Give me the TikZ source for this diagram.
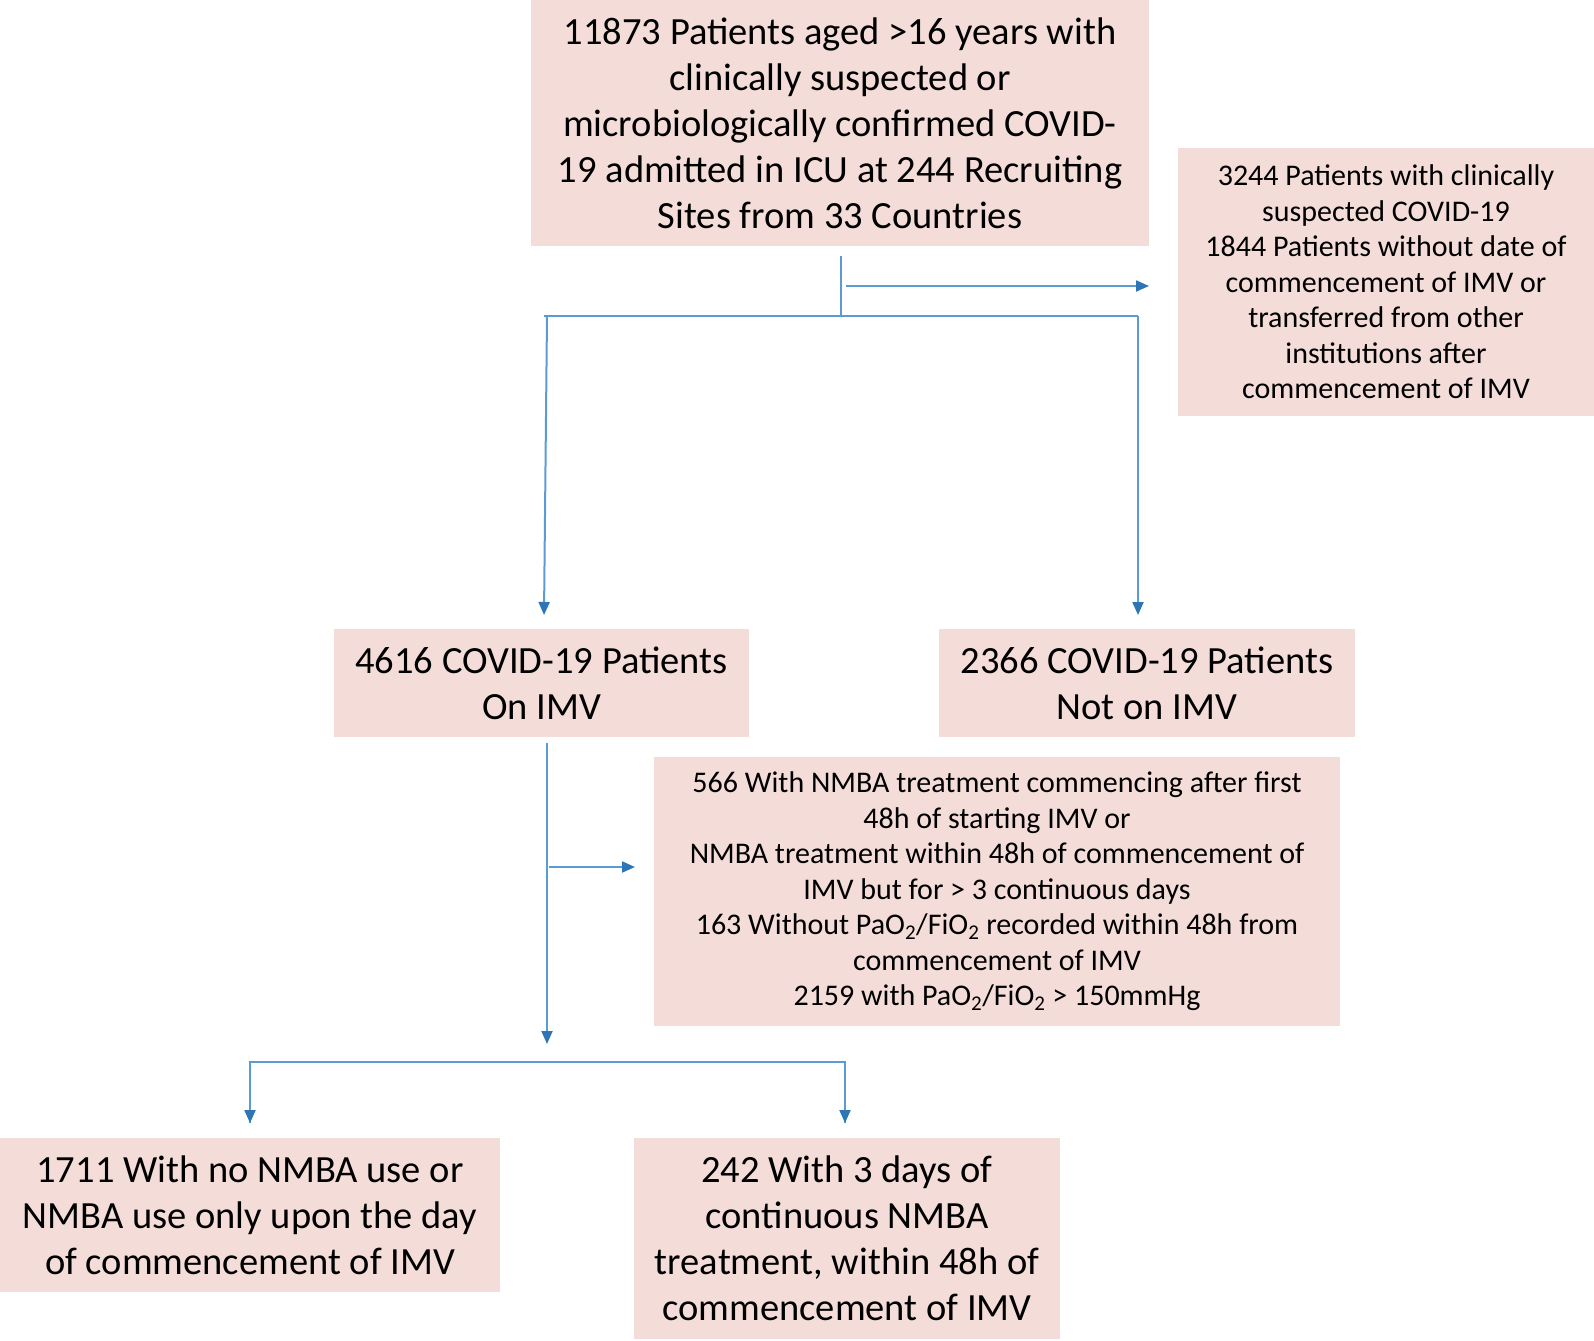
\documentclass[tikz,border=0pt]{standalone}
\usepackage{fontspec}
\setmainfont{Carlito}
\usetikzlibrary{arrows.meta}
\definecolor{boxfill}{RGB}{244,221,216}
\definecolor{linec}{RGB}{91,155,213}
\definecolor{tipc}{RGB}{46,117,182}
\begin{document}
\begin{tikzpicture}[x=1pt,y=-1pt,
  box/.style={fill=boxfill, inner sep=0pt, align=center},
  bigtxt/.style={font=\fontsize{38.5}{46}\selectfont},
  smalltxt/.style={font=\fontsize{30}{35.5}\selectfont},
  conn/.style={draw=linec, line width=2pt},
  arr/.style={conn, -{Triangle[length=13pt,width=11pt,fill=tipc,color=tipc]}}]
\useasboundingbox (0,0) rectangle (1594,1340);
\node[box,bigtxt,minimum width=618pt,minimum height=246pt] (top) at (840,123)
 {11873 Patients aged >16 years with\\clinically suspected or\\microbiologically confirmed COVID-\\19 admitted in ICU at 244 Recruiting\\Sites from 33 Countries};
\node[box,smalltxt,minimum width=416pt,minimum height=268pt] (excl1) at (1386,282)
 {3244 Patients with clinically\\suspected COVID-19\\1844 Patients without date of\\commencement of IMV or\\transferred from other\\institutions after\\commencement of IMV};
\node[box,bigtxt,minimum width=415pt,minimum height=108pt] (imv) at (541.5,683)
 {4616 COVID-19 Patients\\On IMV};
\node[box,bigtxt,minimum width=416pt,minimum height=108pt] (notimv) at (1147,683)
 {2366 COVID-19 Patients\\Not on IMV};
\node[box,smalltxt,minimum width=686pt,minimum height=269pt] (excl2) at (997,891.5)
 {566 With NMBA treatment commencing after first\\48h of starting IMV or\\NMBA treatment within 48h of commencement of\\IMV but for > 3 continuous days\\163 Without PaO\textsubscript{2}/FiO\textsubscript{2} recorded within 48h from\\commencement of IMV\\2159 with PaO\textsubscript{2}/FiO\textsubscript{2} > 150mmHg};
\node[box,bigtxt,minimum width=500pt,minimum height=154pt] (nonmba) at (250,1215)
 {1711 With no NMBA use or\\NMBA use only upon the day\\of commencement of IMV};
\node[box,bigtxt,minimum width=426pt,minimum height=201pt] (nmba) at (847,1238.5)
 {242 With 3 days of\\continuous NMBA\\treatment, within 48h of\\commencement of IMV};
% junction coordinates
\coordinate (s0) at (841,256);
\coordinate (s1) at (841,316);
\coordinate (ea) at (846,286);
\coordinate (eb) at (1149,286);
\coordinate (hl) at (544,316);
\coordinate (hl2) at (547,316);
\coordinate (hr) at (1138,316);
\coordinate (al) at (544,615);
\coordinate (ar) at (1138,615);
\coordinate (m0) at (547,743);
\coordinate (m1) at (547,1044);
\coordinate (xa) at (549,867);
\coordinate (xb) at (635,867);
\coordinate (bl) at (250,1062);
\coordinate (br) at (845,1062);
\coordinate (bla) at (250,1123);
\coordinate (bra) at (845,1123);
\draw[conn] (s0) -- (s1);
\draw[arr] (ea) -- (eb);
\draw[conn] (hl) -- (hr);
\draw[arr] (hl2) -- (al);
\draw[arr] (hr) -- (ar);
\draw[arr] (m0) -- (m1);
\draw[arr] (xa) -- (xb);
\draw[conn] (bla) -- (bl) -- (br) -- (bra);
\draw[arr] (bl) -- (bla);
\draw[arr] (br) -- (bra);
\end{tikzpicture}
\end{document}
